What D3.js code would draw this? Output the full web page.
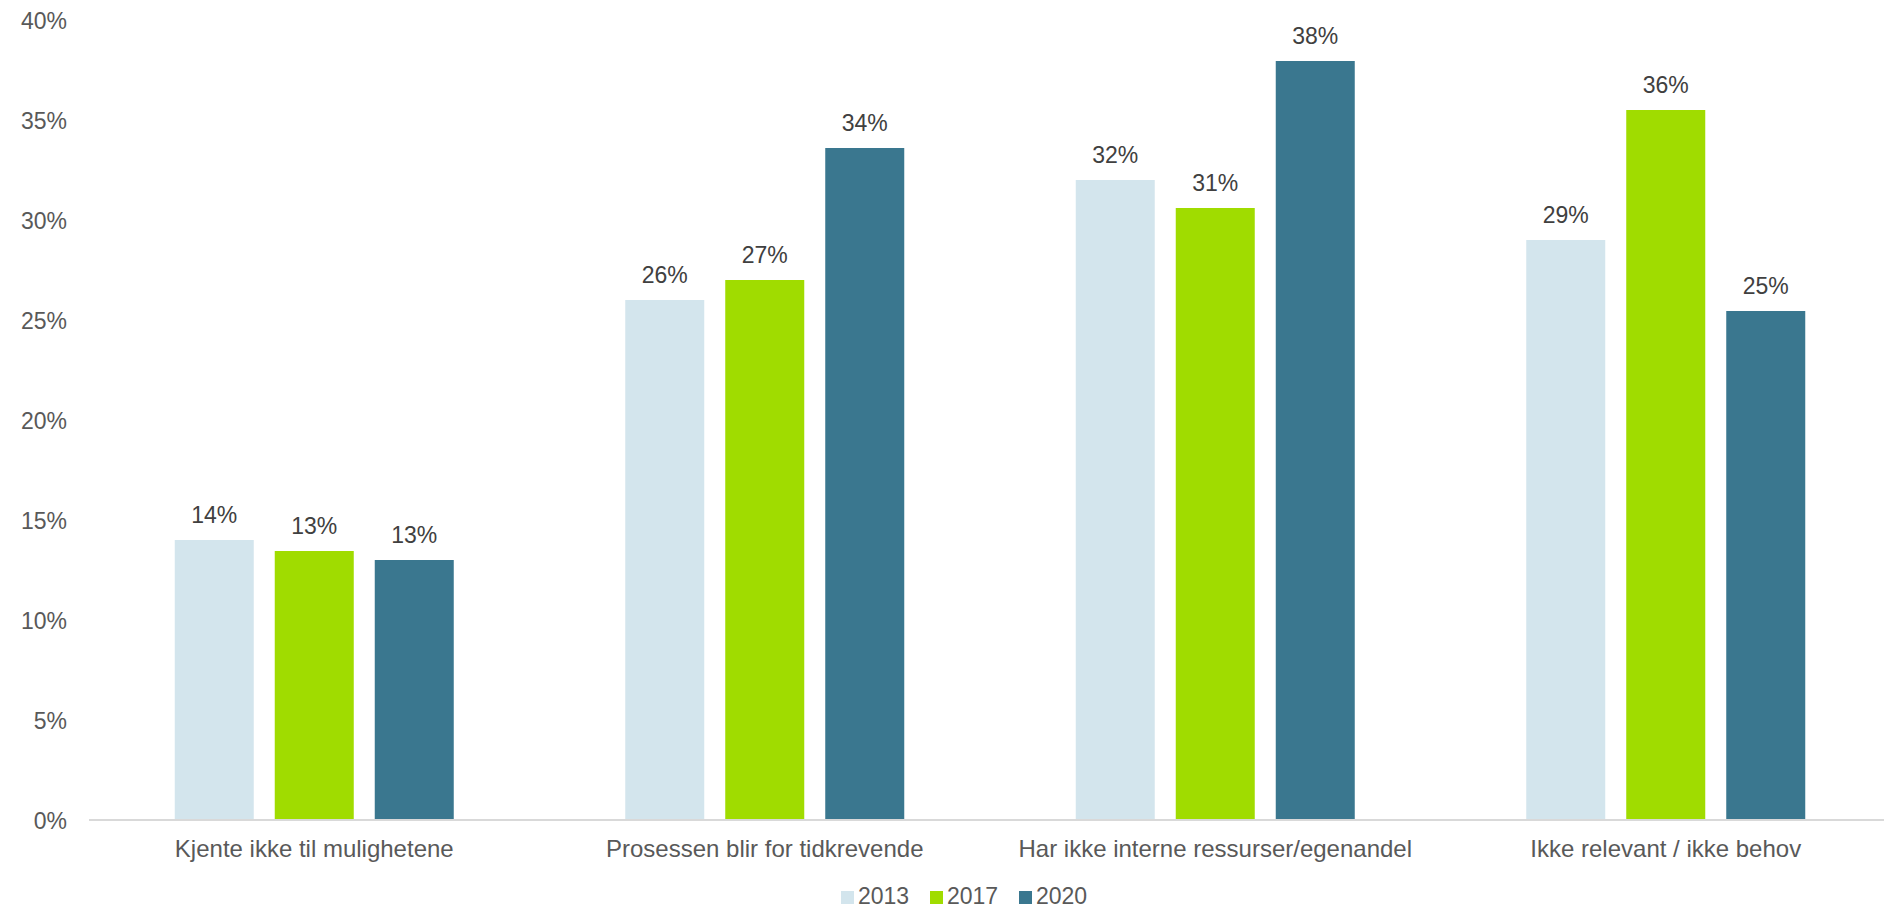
<!DOCTYPE html>
<html>
<head>
<meta charset="utf-8">
<script src="https://cdn.jsdelivr.net/npm/d3@7"></script>
<style>
  html, body { margin: 0; padding: 0; background: #fff; }
  svg { display: block; font-family: "Liberation Sans", Arial, sans-serif; }
</style>
</head>
<body>
<svg id="chart" width="1884" height="910"></svg>
<script>
// Reasons, grouped by survey year
const categories = [
  "Kjente ikke til mulighetene",
  "Prosessen blir for tidkrevende",
  "Har ikke interne ressurser/egenandel",
  "Ikke relevant / ikke behov"
];
const years = ["2013", "2017", "2020"];
const values2013 = [14.0, 26.0, 32.0, 29.0];
const values2017 = [13.45, 27.0, 30.6, 35.5];
const values2020 = [13.0, 33.6, 37.95, 25.45];
const yTicks = [0, 5, 10, 15, 20, 25, 30, 35, 40];
const colors = ["#d3e5ed", "#a0dc00", "#3a778f"];

const seriesValues = [values2013, values2017, values2020];
const rows = categories.map((c, i) => ({
  category: c,
  values: years.map((y, j) => ({ year: y, value: seriesValues[j][i] }))
}));

const svg = d3.select("#chart");
const plot = { left: 89, right: 1891, top: 20, bottom: 820 };

const y = d3.scaleLinear().domain([0, 40]).range([plot.bottom, plot.top]);
const x0 = d3.scaleBand().domain(categories).range([plot.left, plot.right]).padding(0);
const groupWidth = 279;
const x1 = d3.scaleBand().domain(years).range([0, groupWidth]).paddingInner(0.21).paddingOuter(0);
const color = d3.scaleOrdinal().domain(years).range(colors);
const groupOffset = (x0.bandwidth() - groupWidth) / 2;

// Y axis labels (no axis line, no gridlines)
const yAxis = d3.axisLeft(y).tickValues(yTicks).tickFormat(d => d + "%").tickSize(0).tickPadding(0);
const yg = svg.append("g").attr("transform", "translate(67,0)").call(yAxis);
yg.select(".domain").remove();
yg.selectAll("text")
  .attr("fill", "#595959")
  .style("font-size", "23px")
  .attr("dy", "0.35em");

// Bars
const groups = svg.append("g").selectAll("g")
  .data(rows).join("g")
  .attr("transform", d => `translate(${x0(d.category) + groupOffset},0)`);

groups.selectAll("rect")
  .data(d => d.values).join("rect")
  .attr("x", d => x1(d.year))
  .attr("y", d => y(d.value))
  .attr("width", x1.bandwidth())
  .attr("height", d => y(0) - y(d.value))
  .attr("fill", d => color(d.year));

// Value labels
groups.selectAll("text")
  .data(d => d.values).join("text")
  .attr("x", d => x1(d.year) + x1.bandwidth() / 2)
  .attr("y", d => y(d.value) - 17)
  .attr("text-anchor", "middle")
  .attr("fill", "#404040")
  .style("font-size", "23px")
  .text(d => Math.round(d.value) + "%");

// X axis baseline and category labels
const xAxis = d3.axisBottom(x0).tickSize(0).tickPadding(0);
const xg = svg.append("g").attr("transform", `translate(0,${plot.bottom})`).call(xAxis);
xg.select(".domain").attr("stroke", "#d9d9d9").attr("stroke-width", 2)
  .attr("d", `M${plot.left},0H1884`);
xg.selectAll("text")
  .attr("fill", "#595959")
  .style("font-size", "24px")
  .attr("dy", null)
  .attr("y", 37);

// Legend
const legendItems = [
  { year: "2013", x: 841 },
  { year: "2017", x: 930 },
  { year: "2020", x: 1019 }
];
const legend = svg.append("g").selectAll("g")
  .data(legendItems).join("g")
  .attr("transform", d => `translate(${d.x},0)`);
legend.append("rect")
  .attr("x", 0).attr("y", 891).attr("width", 13).attr("height", 13)
  .attr("fill", d => color(d.year));
legend.append("text")
  .attr("x", 17).attr("y", 904)
  .attr("fill", "#595959")
  .style("font-size", "23px")
  .text(d => d.year);
</script>
</body>
</html>
